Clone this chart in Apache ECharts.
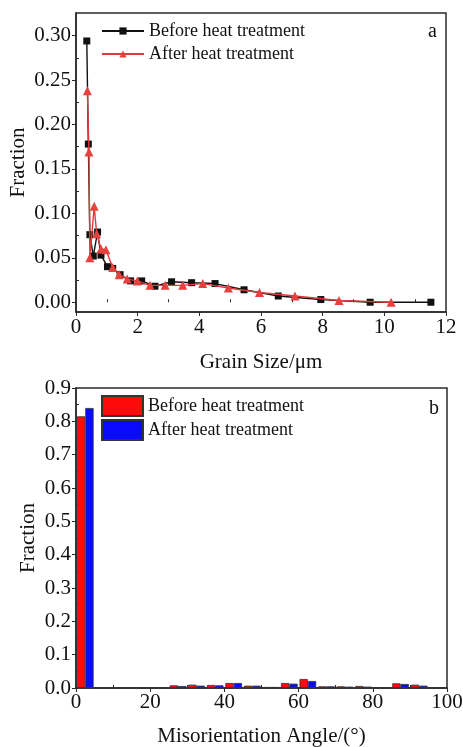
<!DOCTYPE html>
<html>
<head>
<meta charset="utf-8">
<script src="https://cdn.jsdelivr.net/npm/echarts@6/dist/echarts.min.js"></script>
<style>
html,body{margin:0;padding:0;background:#fff;}
#c{width:463px;height:747px;}
</style>
</head>
<body>
<div id="c"></div>
<script>
// ---- Panel a: grain size distribution ----
const beforeSize = [0.35,0.40,0.45,0.56,0.70,0.81,1.02,1.19,1.43,1.77,2.13,2.56,3.10,3.75,4.51,5.45,6.56,7.94,9.54,11.51];
const beforeFrac = [0.294,0.178,0.076,0.052,0.079,0.053,0.040,0.038,0.031,0.024,0.024,0.018,0.023,0.022,0.021,0.014,0.007,0.003,0.000,0.000];
const afterSize = [0.37,0.42,0.45,0.59,0.67,0.81,0.97,1.19,1.40,1.66,1.99,2.40,2.89,3.46,4.11,4.94,5.95,7.10,8.53,10.22];
const afterFrac = [0.238,0.169,0.050,0.108,0.077,0.060,0.059,0.039,0.031,0.026,0.024,0.019,0.019,0.019,0.021,0.016,0.011,0.007,0.002,0.000];
const gsMajorY = [0,0.05,0.10,0.15,0.20,0.25,0.30];
const gsMinorY = [0.025,0.075,0.125,0.175,0.225,0.275];
const gsMinorX = [1,3,5,7,9,11];

// ---- Panel b: misorientation angle distribution (5° bins) ----
const angleBins = ['0-5','5-10','10-15','15-20','20-25','25-30','30-35','35-40','40-45','45-50','50-55','55-60','60-65','65-70','70-75','75-80','80-85','85-90','90-95','95-100'];
const angleBefore = [0.815,0,0,0,0.002,0.008,0.010,0.009,0.015,0.007,0.003,0.015,0.027,0.005,0.005,0.006,0.002,0.014,0.010,0];
const angleAfter  = [0.840,0,0,0,0.001,0.006,0.007,0.008,0.015,0.007,0.003,0.013,0.021,0.005,0.004,0.004,0.002,0.012,0.007,0];
const maMinorY = [0.05,0.15,0.25,0.35,0.45,0.55,0.65,0.75,0.85];
const maMinorX = [10,30,50,70,90];

const zip = (a,b)=>a.map((v,i)=>[v,b[i]]);
const FONT = 'Liberation Serif';
const AX = '#2a2a2a';

const chart = echarts.init(document.getElementById('c'), null, {renderer:'canvas'});
chart.setOption({
  animation:false,
  backgroundColor:'#fff',
  textStyle:{fontFamily:FONT},
  title:[
    {text:'a', left:423, top:17, textStyle:{fontFamily:FONT,fontSize:20,fontWeight:'normal',color:'#111'}},
    {text:'b', left:424, top:394, textStyle:{fontFamily:FONT,fontSize:20,fontWeight:'normal',color:'#111'}}
  ],
  legend:[
    {data:['Before heat treatment','After heat treatment'], orient:'vertical', left:101, top:22, padding:0,
     itemWidth:42, itemHeight:9, itemGap:5, selectedMode:false,
     textStyle:{fontFamily:FONT,fontSize:18,color:'#111'}},
    {data:['Before heat treatment ','After heat treatment '], orient:'vertical', left:101, top:395, padding:0,
     itemWidth:41, itemHeight:20, itemGap:2, icon:'rect', selectedMode:false,
     textStyle:{fontFamily:FONT,fontSize:18,color:'#111'}}
  ],
  grid:[
    {left:76, top:13, width:370, height:299, outerBoundsMode:'none', containLabel:false,
     show:true, borderColor:AX, borderWidth:1.5, backgroundColor:'transparent'},
    {left:76, top:388, width:371, height:300, outerBoundsMode:'none', containLabel:false,
     show:true, borderColor:AX, borderWidth:1.5, backgroundColor:'transparent'}
  ],
  xAxis:[
    {gridIndex:0, type:'value', min:0, max:12, interval:2,
     name:'Grain Size/μm', nameLocation:'middle', nameGap:40, nameMoveOverlap:false,
     nameTextStyle:{fontFamily:FONT,fontSize:21,color:'#111'},
     axisLine:{onZero:false, lineStyle:{color:AX,width:1.5}},
     axisTick:{length:4, lineStyle:{color:AX}},
     axisLabel:{fontFamily:FONT,fontSize:21,color:'#111',margin:5},
     splitLine:{show:false}},
    {gridIndex:0, type:'value', min:0, max:12, position:'bottom',
     axisLine:{show:false}, axisLabel:{show:false}, splitLine:{show:false},
     axisTick:{inside:true, length:3, customValues:gsMinorX, lineStyle:{color:AX}}},
    {gridIndex:1, type:'value', min:0, max:100, interval:20,
     name:'Misorientation Angle/(°)', nameLocation:'middle', nameGap:38, nameMoveOverlap:false,
     nameTextStyle:{fontFamily:FONT,fontSize:21,color:'#111'},
     axisLine:{onZero:false, lineStyle:{color:AX,width:1.5}},
     axisTick:{length:4, lineStyle:{color:AX}},
     axisLabel:{fontFamily:FONT,fontSize:21,color:'#111',margin:4},
     splitLine:{show:false}},
    {gridIndex:1, type:'value', min:0, max:100, position:'bottom',
     axisLine:{show:false}, axisLabel:{show:false}, splitLine:{show:false},
     axisTick:{inside:true, length:3, customValues:maMinorX, lineStyle:{color:AX}}},
    {gridIndex:1, type:'category', data:angleBins, boundaryGap:true, show:false}
  ],
  yAxis:[
    {gridIndex:0, type:'value', min:-0.011, max:0.3255,
     name:'Fraction', nameLocation:'middle', nameGap:47, nameMoveOverlap:false,
     nameTextStyle:{fontFamily:FONT,fontSize:21,color:'#111'},
     axisLine:{show:true, onZero:false, lineStyle:{color:AX,width:1.5}},
     axisTick:{show:true, length:4, customValues:gsMajorY, lineStyle:{color:AX}},
     axisLabel:{fontFamily:FONT,fontSize:21,color:'#111',margin:5, customValues:gsMajorY,
       formatter:v=>v.toFixed(2)},
     splitLine:{show:false}},
    {gridIndex:0, type:'value', min:-0.011, max:0.3255, position:'left',
     axisLine:{show:false}, axisLabel:{show:false}, splitLine:{show:false},
     axisTick:{show:true, inside:true, length:3, customValues:gsMinorY, lineStyle:{color:AX}}},
    {gridIndex:1, type:'value', min:0, max:0.9, interval:0.1,
     name:'Fraction', nameLocation:'middle', nameGap:37, nameMoveOverlap:false,
     nameTextStyle:{fontFamily:FONT,fontSize:21,color:'#111'},
     axisLine:{show:true, onZero:false, lineStyle:{color:AX,width:1.5}},
     axisTick:{show:true, length:4, lineStyle:{color:AX}},
     axisLabel:{fontFamily:FONT,fontSize:21,color:'#111',margin:5, formatter:v=>v.toFixed(1)},
     splitLine:{show:false}},
    {gridIndex:1, type:'value', min:0, max:0.9, position:'left',
     axisLine:{show:false}, axisLabel:{show:false}, splitLine:{show:false},
     axisTick:{show:true, inside:true, length:3, customValues:maMinorY, lineStyle:{color:AX}}}
  ],
  series:[
    {name:'Before heat treatment', type:'line', xAxisIndex:0, yAxisIndex:0,
     data:zip(beforeSize,beforeFrac), symbol:'rect', symbolSize:7,
     lineStyle:{color:'#111',width:1.4}, itemStyle:{color:'#111'}, z:3},
    {name:'After heat treatment', type:'line', xAxisIndex:0, yAxisIndex:0,
     data:zip(afterSize,afterFrac), symbol:'triangle', symbolSize:9,
     lineStyle:{color:'#e0393b',width:1.4}, itemStyle:{color:'#e6403f'}, z:4},
    {name:'Before heat treatment ', type:'bar', xAxisIndex:4, yAxisIndex:2,
     data:angleBefore, barGap:'0%', barCategoryGap:'10%',
     itemStyle:{color:'#ff0a0a', borderColor:'#333', borderWidth:0.8}},
    {name:'After heat treatment ', type:'bar', xAxisIndex:4, yAxisIndex:2,
     data:angleAfter, barGap:'0%', barCategoryGap:'10%',
     itemStyle:{color:'#0a0aff', borderColor:'#333', borderWidth:0.8}}
  ]
});
</script>
</body>
</html>
